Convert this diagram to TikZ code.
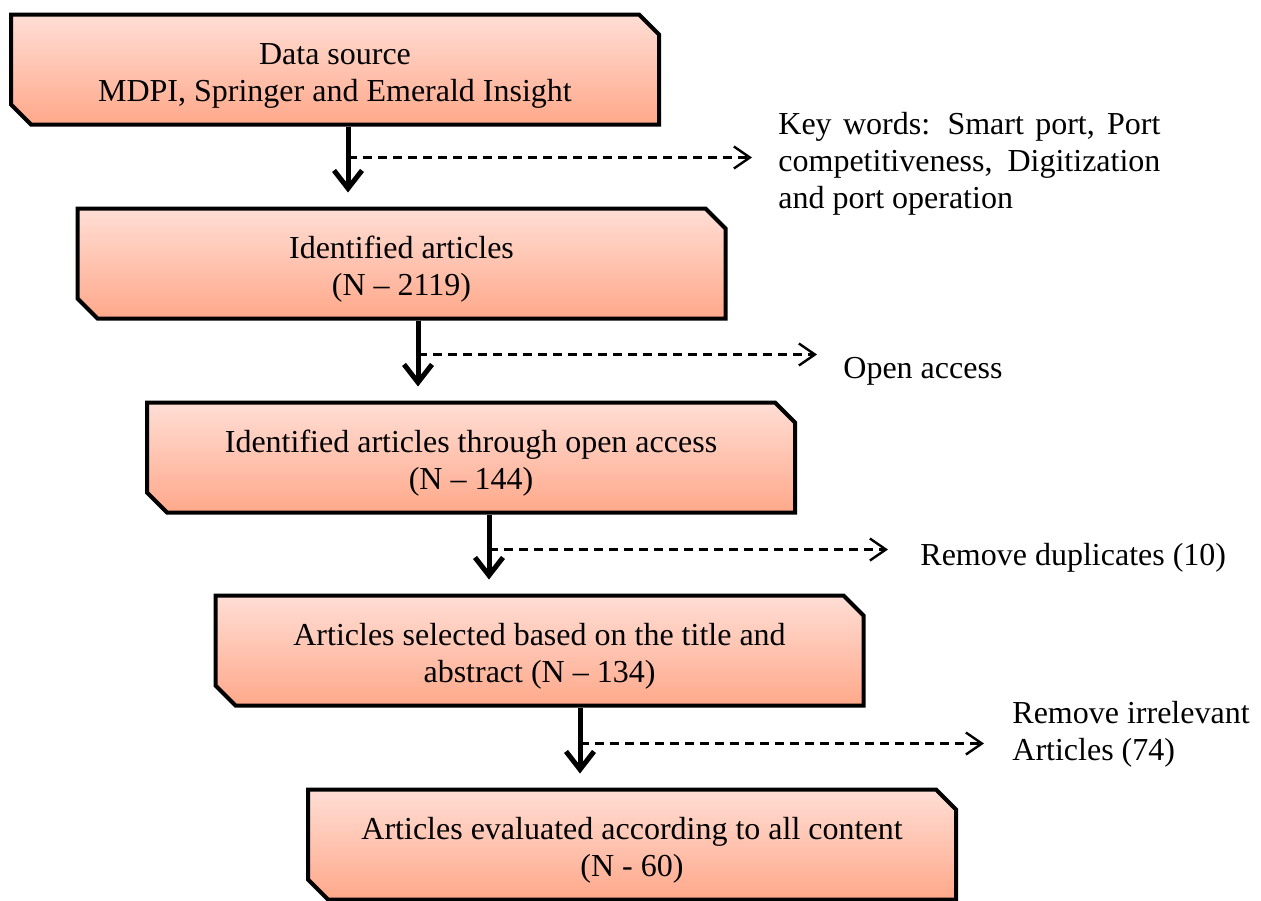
\documentclass[tikz,border=0pt]{standalone}
\usepackage{fontspec}
\setmainfont{Liberation Serif}
\usetikzlibrary{calc,shapes.misc,arrows.meta}
\definecolor{boxtop}{RGB}{255,222,213}
\definecolor{boxbot}{RGB}{255,168,138}
\newcommand{\topstrut}{\rule{0pt}{17pt}}
\tikzset{
    stage/.style={chamfered rectangle,chamfered rectangle corners={north east,south west},
        chamfered rectangle xsep=5pt,chamfered rectangle ysep=5pt,
        minimum width=324pt,minimum height=55pt,inner sep=0pt,align=center,
        draw,line width=2pt,top color=boxtop,bottom color=boxbot},
    flow/.style={line width=2.5pt,-{Straight Barb[length=9pt,width=14pt,line width=2.5pt]},shorten >=7pt},
    side/.style={line width=1.2pt,dash pattern=on 4.5pt off 3pt,-{Straight Barb[length=8pt,width=11pt,line width=1.2pt]}},
    note/.style={inner sep=0pt,anchor=west,align=left}
}

\begin{document}
\begin{tikzpicture}[x=0.5pt,y=-0.5pt,font=\fontsize{16}{18.5}\selectfont]
        \useasboundingbox (0,0) rectangle (1261,900);

        % 1. Stages of the selection
        \node (src) at (335,69.5) [stage] {\topstrut Data source\\MDPI, Springer and Emerald Insight};
        \node (idf) at (401.5,263.5) [stage] {\topstrut Identified articles\\(N -- 2119)};
        \node (opn) at (471,457.5) [stage] {\topstrut Identified articles through open access\\(N -- 144)};
        \node (sel) at (539.5,650.5) [stage] {\topstrut Articles selected based on the title and\\abstract (N -- 134)};
        \node (evl) at (632,844.5) [stage] {\topstrut Articles evaluated according to all content\\(N - 60)};

        % 2. Side notes
        \node (kw) at (778,164) [note,text width=191pt,align=justify]
            {\hyphenpenalty=10000 Key words: Smart port, Port\linebreak competitiveness, Digitization\linebreak and port operation};
        \node (oa) at (843,371) [note] {Open access};
        \node (dup) at (920,558) [note] {Remove duplicates (10)};
        \node (irr) at (1012,734) [note] {Remove irrelevant\\Articles (74)};

        % 3. Main flow, a little right of the box centres
        \coordinate (a1) at ($(src.south)+(13,0)$);
        \coordinate (a2) at ($(idf.south)+(16.5,0)$);
        \coordinate (a3) at ($(opn.south)+(18,0)$);
        \coordinate (a4) at ($(sel.south)+(40.5,0)$);
        \draw[flow] (a1) -- (a1 |- idf.north);
        \draw[flow] (a2) -- (a2 |- opn.north);
        \draw[flow] (a3) -- (a3 |- sel.north);
        \draw[flow] (a4) -- (a4 |- evl.north);

        % 4. Branches to the notes
        \coordinate (j1) at ($(a1)+(0,31)$);
        \coordinate (j2) at ($(a2)+(0,34)$);
        \coordinate (j3) at ($(a3)+(0,35)$);
        \coordinate (j4) at ($(a4)+(0,36)$);
        \draw[side,shorten >=13pt] (j1) -- (j1 -| kw.west);
        \draw[side,shorten >=13pt] (j2) -- (j2 -| oa.west);
        \draw[side,shorten >=16pt] (j3) -- (j3 -| dup.west);
        \draw[side,shorten >=14pt] (j4) -- (j4 -| irr.west);
    \end{tikzpicture}
\end{document}
